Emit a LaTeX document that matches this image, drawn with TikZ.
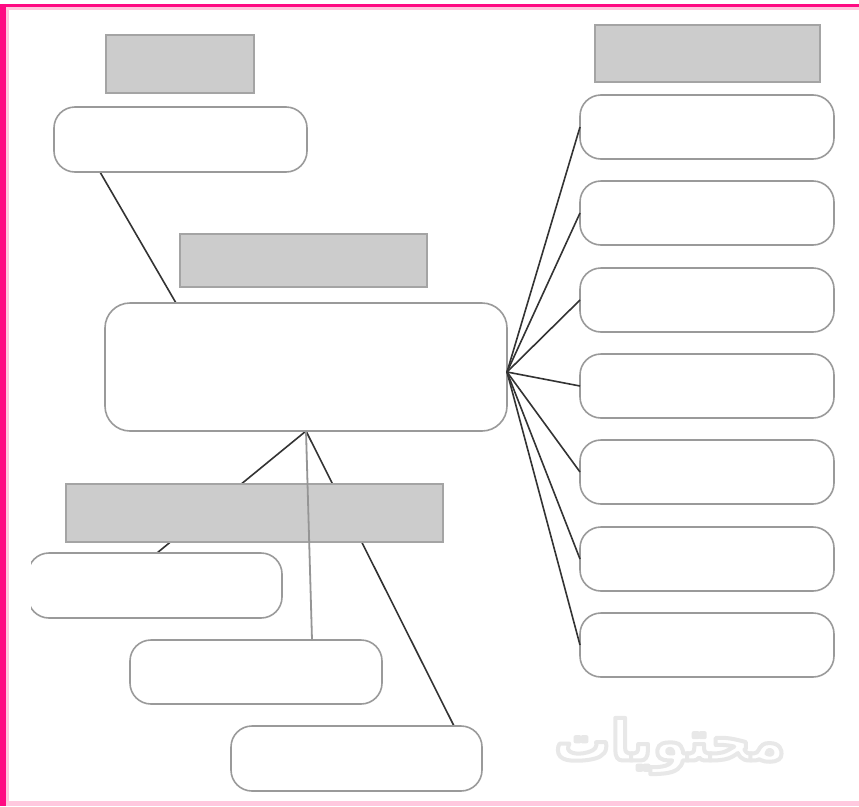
\documentclass[tikz,border=0pt]{standalone}
\usepackage{fontspec}
\newfontfamily\arabicfont[Script=Arabic]{DejaVu Sans}
\TeXXeTstate=1
\usetikzlibrary{calc}
\pgfdeclarelayer{back}
\pgfsetlayers{back,main}

\definecolor{framepink}{HTML}{FF0A82}
\definecolor{framelight}{HTML}{FFC8DE}
\definecolor{boxedge}{HTML}{9A9A9A}
\definecolor{labelfill}{HTML}{CCCCCC}
\definecolor{labeledge}{HTML}{A4A4A4}
\definecolor{linkcol}{HTML}{333333}
\definecolor{softcol}{HTML}{959595}

% outlined lettering: white fill, light grey stroke
\newcommand{\outlinedtext}[1]{%
  \special{pdf:literal direct 0.91 G 4 w 1 j 2 Tr}#1\special{pdf:literal direct 0 Tr}}

\tikzset{
  roundbox/.style={draw=boxedge, line width=1.6pt, fill=white, rounded corners=21pt,
    inner sep=0pt, outer sep=0pt},
  labelbox/.style={draw=labeledge, line width=2.6pt, fill=labelfill,
    inner sep=0pt, outer sep=0pt},
  link/.style={draw=linkcol, line width=1.6pt},
  softlink/.style={draw=softcol, line width=1.8pt},
}

\begin{document}
\begin{tikzpicture}[x=1pt,y=-1pt]
  \useasboundingbox (0,0) rectangle (859,806);
  \begin{pgfonlayer}{back}
    \fill[white] (0,0) rectangle (859,806);
  \end{pgfonlayer}

  % frame strips
  \fill[framepink] (0,4) rectangle (859,7);
  \fill[framelight] (0,7) rectangle (859,10);
  \fill[framepink] (0,4) rectangle (6,806);
  \fill[framelight] (6,10) rectangle (9,806);
  \fill[framelight] (9,801) rectangle (859,806);

  % upper left group
  \node[labelbox, minimum width=148pt, minimum height=58pt] (topgray) at (180,64) {};
  \node[roundbox, minimum width=253pt, minimum height=65pt] (topbox) at (180.5,139.5) {};

  % central group
  \node[labelbox, minimum width=247pt, minimum height=53pt] (midgray) at (303.5,260.5) {};
  \node[roundbox, rounded corners=25pt, minimum width=402pt, minimum height=128pt] (core) at (306,367) {};

  % lower left group
  \node[labelbox, minimum width=377pt, minimum height=58pt] (lowgray) at (254.5,513) {};
  \begin{scope}
    \clip (31,540) rectangle (300,630);
    \node[roundbox, minimum width=254pt, minimum height=65pt] (low1) at (155,585.5) {};
  \end{scope}
  \node[roundbox, minimum width=252pt, minimum height=64pt] (low2) at (256,672) {};
  \node[roundbox, minimum width=251pt, minimum height=65pt] (low3) at (356.5,758.5) {};

  % right column
  \node[labelbox, minimum width=225pt, minimum height=57pt] (rightgray) at (707.5,53.5) {};
  \foreach \i/\cy in {1/127,2/213,3/300,4/386,5/472,6/559,7/645}
    \node[roundbox, minimum width=254pt, minimum height=64pt] (r\i) at (707,\cy) {};

  % hubs on the central box
  \coordinate (hubS) at (core.south);
  \coordinate (hubE) at ([yshift=-5pt]core.east);

  % connectors that run behind the label boxes
  \begin{pgfonlayer}{back}
    \draw[link] ([xshift=46pt]topbox.south west) -- ([xshift=71pt]core.north west);
    \draw[link] (hubS) -- ([xshift=2pt]low1.north);
    \draw[link] (hubS) -- ([xshift=-28pt]low3.north east);
  \end{pgfonlayer}
  \draw[softlink] (hubS) -- ([xshift=56pt]low2.north);

  % fan of connectors to the right column
  \foreach \i in {1,...,7}
    \draw[link] (hubE) -- (r\i.west);

  % faint watermark lettering
  \node[text=white, font=\arabicfont\bfseries\fontsize{56}{60}\selectfont, inner sep=0pt]
    (mark) at (670,746) {\outlinedtext{\beginR محتويات\endR}};
\end{tikzpicture}
\end{document}
